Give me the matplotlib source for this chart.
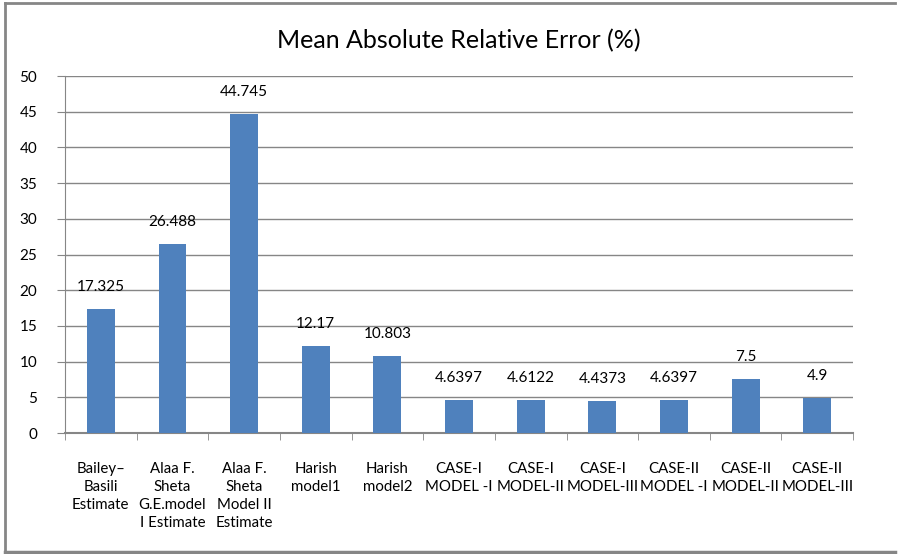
import matplotlib
matplotlib.use("Agg")
import matplotlib.pyplot as plt
from matplotlib.lines import Line2D

categories = ["Bailey\u2013\nBasili\nEstimate", "Alaa F.\nSheta\nG.E.model\nI Estimate",
              "Alaa F.\nSheta\nModel II\nEstimate", "Harish\nmodel1", "Harish\nmodel2",
              "CASE-I\nMODEL -I", "CASE-I\nMODEL-II", "CASE-I\nMODEL-III",
              "CASE-II\nMODEL -I", "CASE-II\nMODEL-II", "CASE-II\nMODEL-III"]
values = [17.325, 26.488, 44.745, 12.17, 10.803, 4.6397, 4.6122, 4.4373, 4.6397, 7.5, 4.9]
value_labels = ["17.325", "26.488", "44.745", "12.17", "10.803", "4.6397", "4.6122",
                "4.4373", "4.6397", "7.5", "4.9"]
y_ticks = [0, 5, 10, 15, 20, 25, 30, 35, 40, 45, 50]

plt.rcParams['font.family'] = ['Lato', 'DejaVu Sans']

fig = plt.figure(figsize=(8.98, 5.54), dpi=100)
ax = fig.add_axes([0.0724, 0.2184, 0.8776, 0.6444])

x = list(range(len(values)))
ax.bar(x, values, width=0.39, color='#4F81BD', zorder=3)
for xi, v, lab in zip(x, values, value_labels):
    ax.annotate(lab, (xi, v), xytext=(0, 22), textcoords='offset pixels',
                ha='center', va='center', fontsize=11, color='black')

ax.set_xlim(-0.5, len(values) - 0.5)
ax.set_ylim(0, 50)
ax.set_yticks(y_ticks)
ax.set_yticklabels([str(t) for t in y_ticks], fontsize=11)
ax.yaxis.grid(True, color='#868686', linewidth=1.0, zorder=0)
ax.tick_params(axis='y', length=6, color='#868686', pad=14)

ax.set_xticks(x)
ax.set_xticklabels(categories, fontsize=10.8, linespacing=1.35, va='top')
ax.set_xticks([i - 0.5 for i in range(len(values) + 1)], minor=True)
ax.tick_params(axis='x', which='major', length=0, pad=21)
ax.tick_params(axis='x', which='minor', length=5, color='#868686')

for s in ['top', 'right']:
    ax.spines[s].set_visible(False)
ax.spines['left'].set_color('#868686')
ax.spines['bottom'].set_color('#868686')
ax.spines['bottom'].set_linewidth(1.5)

ax.set_title("Mean Absolute Relative Error (%)", fontsize=18, pad=20)

# outer chart border
w, h = 898, 554
fig.add_artist(Line2D([5 / w, 5 / w], [1 - 3 / h, 1 - 552 / h], color='#868686', lw=2))
fig.add_artist(Line2D([5 / w, 895 / w], [1 - 3 / h, 1 - 3 / h], color='#868686', lw=2))
fig.add_artist(Line2D([5 / w, 895 / w], [1 - 552 / h, 1 - 552 / h], color='#868686', lw=2.5))

fig.savefig("out.png", dpi=100)
